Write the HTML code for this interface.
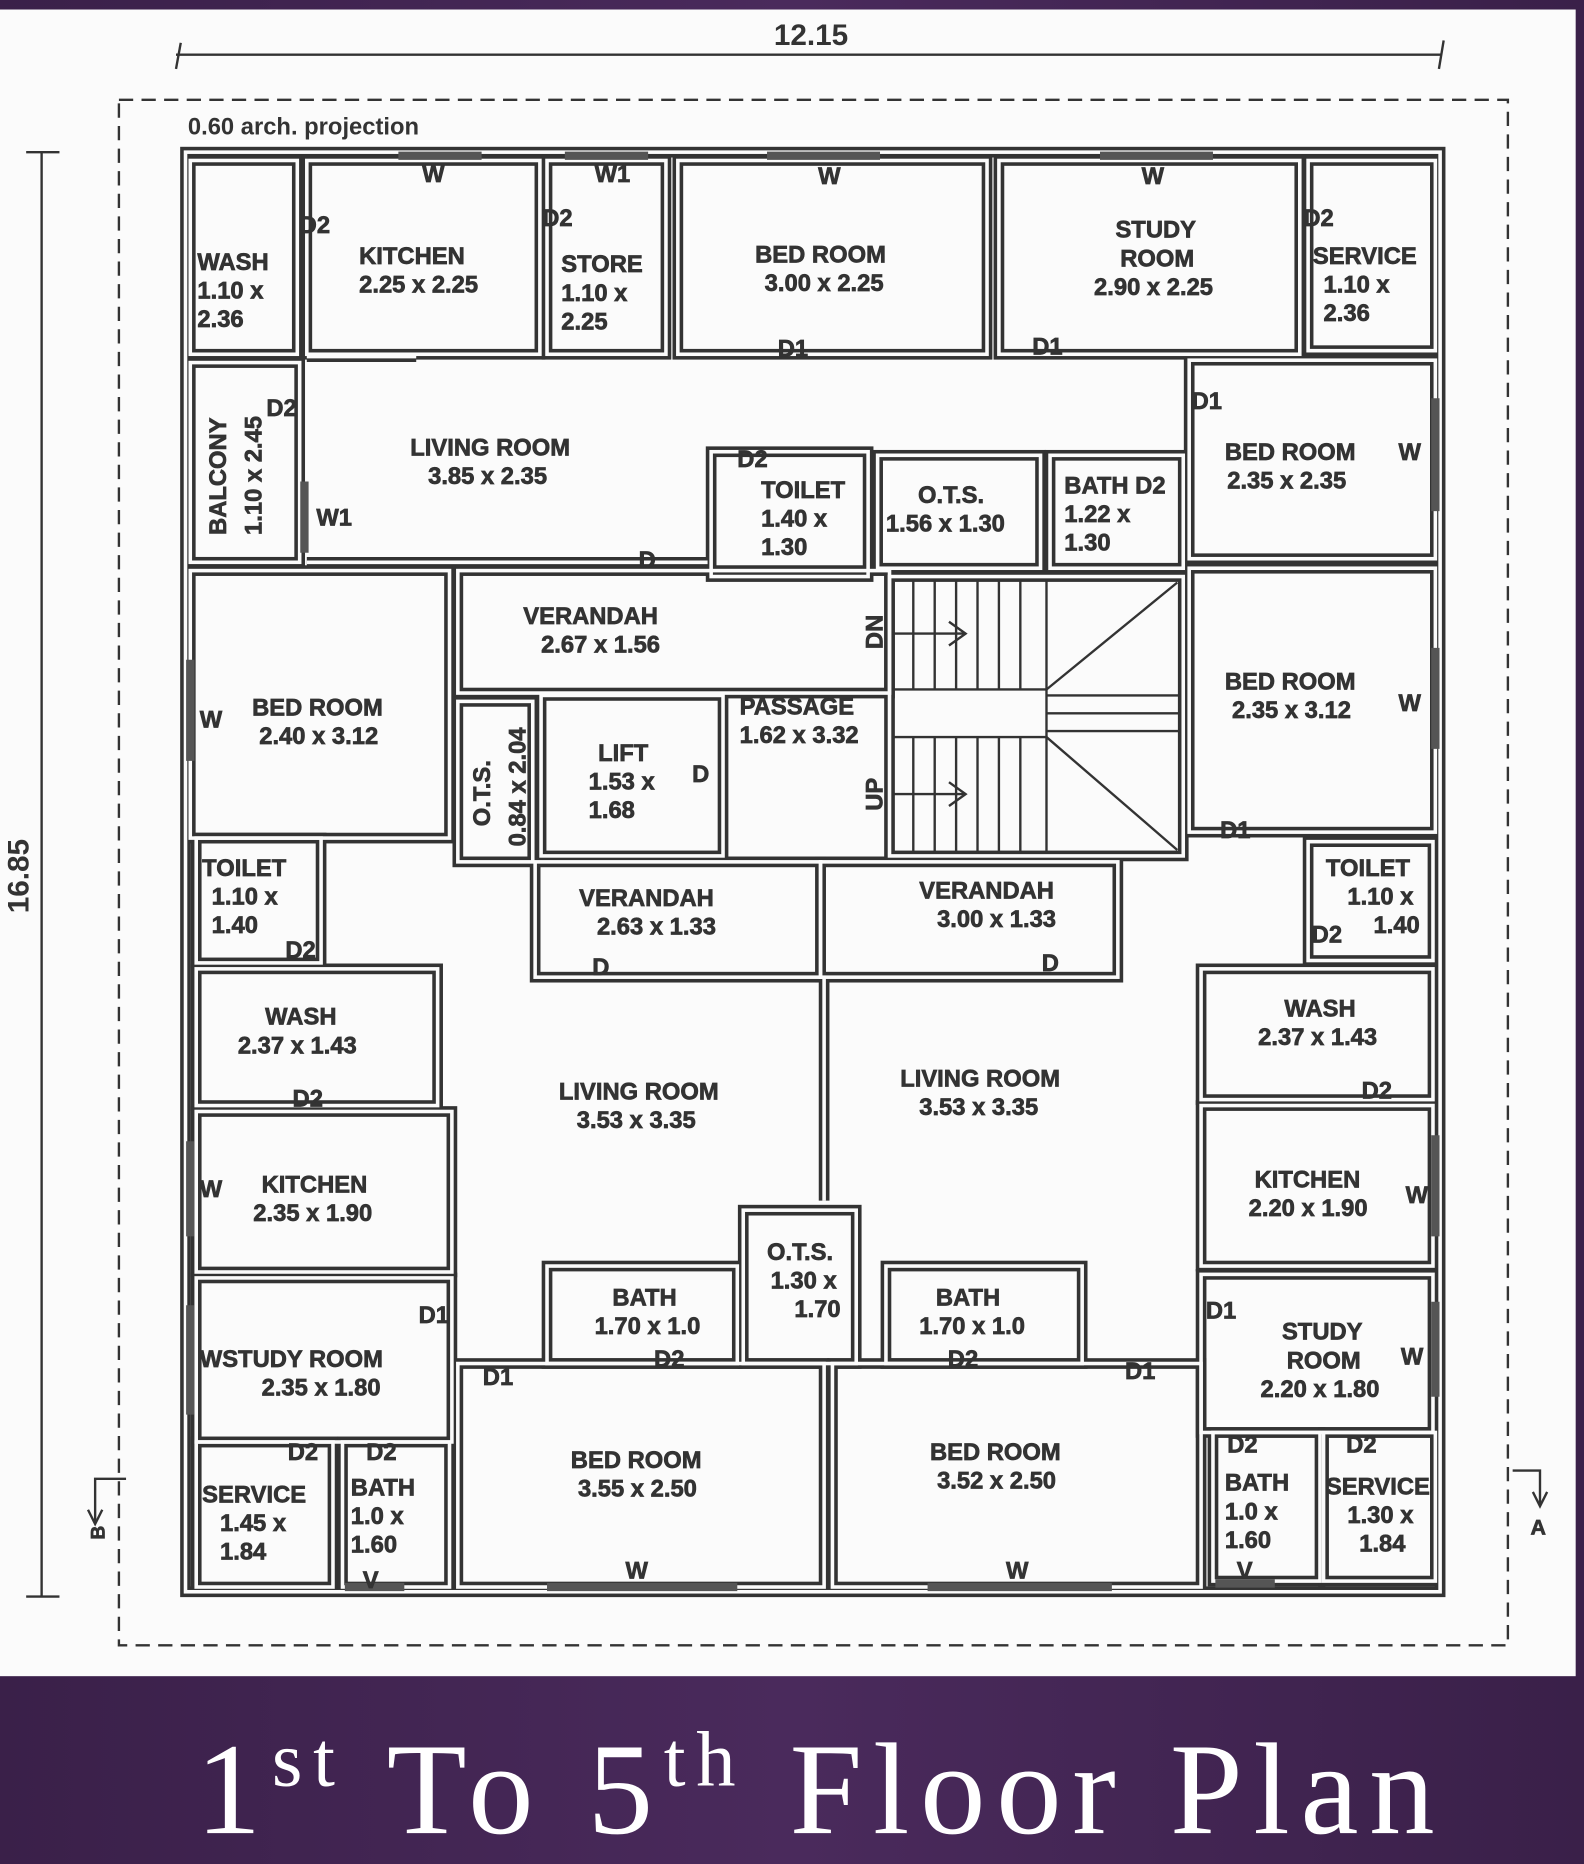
<!DOCTYPE html>
<html><head><meta charset="utf-8"><style>
html,body{margin:0;padding:0;background:#3c2350;}
svg{display:block}
</style></head><body>
<svg width="1584" height="1864" viewBox="0 0 1332 1568" preserveAspectRatio="none" xmlns="http://www.w3.org/2000/svg">
<defs>
<linearGradient id="bg" x1="0" y1="0" x2="1" y2="0">
<stop offset="0" stop-color="#3a2049"/><stop offset="0.5" stop-color="#4a2a5c"/><stop offset="1" stop-color="#3a2049"/>
</linearGradient>
<g id="walls">
<rect x="156" y="128" width="1055" height="1211"/>
<rect x="160" y="135" width="90" height="163"/>
<rect x="258" y="135" width="196" height="163"/>
<rect x="460" y="135" width="100" height="163"/>
<rect x="570" y="135" width="260" height="163"/>
<rect x="840" y="135" width="253" height="163"/>
<rect x="1100" y="135" width="107" height="160"/>
<rect x="160" y="305" width="92" height="168"/>
<line x1="258" y1="300" x2="350" y2="300"/>
<line x1="258" y1="473" x2="595" y2="473"/>
<rect x="598" y="380" width="132" height="105"/>
<rect x="738" y="383" width="137" height="95"/>
<rect x="883" y="383" width="112" height="95"/>
<rect x="1000" y="303" width="207" height="167"/>
<rect x="160" y="480" width="218" height="225"/>
<rect x="385" y="480" width="363" height="103"/>
<rect x="748" y="485" width="247" height="235"/>
<rect x="1000" y="478" width="207" height="222"/>
<rect x="385" y="590" width="63" height="135"/>
<rect x="455" y="585" width="153" height="135"/>
<rect x="450" y="725" width="240" height="97"/>
<rect x="690" y="725" width="250" height="97"/>
<rect x="165" y="705" width="105" height="105"/>
<rect x="1100" y="708" width="105" height="100"/>
<rect x="165" y="815" width="203" height="115"/>
<rect x="1010" y="815" width="195" height="110"/>
<rect x="165" y="935" width="215" height="135"/>
<rect x="1010" y="930" width="195" height="135"/>
<rect x="165" y="1075" width="215" height="138"/>
<rect x="1010" y="1072" width="195" height="133"/>
<rect x="165" y="1213" width="115" height="122"/>
<rect x="288" y="1213" width="90" height="122"/>
<rect x="385" y="1147" width="308" height="188"/>
<rect x="700" y="1147" width="310" height="188"/>
<line x1="693" y1="822" x2="693" y2="1010"/>
<rect x="460" y="1065" width="160" height="82"/>
<rect x="625" y="1018" width="95" height="129"/>
<rect x="745" y="1065" width="165" height="82"/>
<rect x="1020" y="1205" width="90" height="125"/>
<rect x="1113" y="1205" width="94" height="125"/>
</g>
</defs>
<rect x="0" y="0" width="1332" height="1568" fill="url(#bg)"/>
<rect x="0" y="8" width="1325" height="1402" fill="#fbfbfb"/>
<g stroke="#333" stroke-width="2" fill="none">
<line x1="148" y1="46" x2="1212" y2="46"/>
<line x1="152" y1="36" x2="148" y2="58"/><line x1="1214" y1="34" x2="1210" y2="58"/>
<line x1="35" y1="128" x2="35" y2="1343"/>
<line x1="22" y1="128" x2="50" y2="128"/><line x1="22" y1="1343" x2="50" y2="1343"/>
<rect x="100" y="84" width="1168" height="1300" stroke-dasharray="12 7"/>
</g>
<g font-family="Liberation Sans, sans-serif" font-weight="bold" fill="#333">
<text x="682" y="38" font-size="25" text-anchor="middle">12.15</text>
<text transform="translate(24 737) rotate(-90)" font-size="25" text-anchor="middle">16.85</text>
<text x="158" y="113" font-size="20">0.60 arch. projection</text>
</g>
<use href="#walls" fill="none" stroke="#333" stroke-width="9"/>
<use href="#walls" fill="none" stroke="#fbfbfb" stroke-width="3"/>
<g stroke="#555" stroke-width="7">
<line x1="335" y1="131" x2="405" y2="131"/><line x1="475" y1="131" x2="545" y2="131"/>
<line x1="645" y1="131" x2="740" y2="131"/><line x1="925" y1="131" x2="1020" y2="131"/>
<line x1="1207" y1="335" x2="1207" y2="430"/><line x1="1207" y1="545" x2="1207" y2="630"/>
<line x1="1207" y1="955" x2="1207" y2="1040"/><line x1="1207" y1="1095" x2="1207" y2="1175"/>
<line x1="160" y1="555" x2="160" y2="640"/><line x1="160" y1="960" x2="160" y2="1040"/>
<line x1="160" y1="1098" x2="160" y2="1190"/><line x1="256" y1="405" x2="256" y2="465"/>
<line x1="460" y1="1335" x2="620" y2="1335"/><line x1="780" y1="1335" x2="935" y2="1335"/>
<line x1="290" y1="1335" x2="340" y2="1335"/><line x1="1022" y1="1332" x2="1072" y2="1332"/>
</g>
<g stroke="#333" stroke-width="2" fill="none">
<line x1="750" y1="580" x2="880" y2="580"/><line x1="750" y1="620" x2="880" y2="620"/>
<line x1="768" y1="487" x2="768" y2="580"/><line x1="786" y1="487" x2="786" y2="580"/><line x1="804" y1="487" x2="804" y2="580"/><line x1="822" y1="487" x2="822" y2="580"/><line x1="840" y1="487" x2="840" y2="580"/><line x1="858" y1="487" x2="858" y2="580"/><line x1="880" y1="487" x2="880" y2="718"/>
<line x1="768" y1="620" x2="768" y2="718"/><line x1="786" y1="620" x2="786" y2="718"/><line x1="804" y1="620" x2="804" y2="718"/><line x1="822" y1="620" x2="822" y2="718"/><line x1="840" y1="620" x2="840" y2="718"/><line x1="858" y1="620" x2="858" y2="718"/>
<line x1="880" y1="580" x2="990" y2="490"/><line x1="880" y1="620" x2="990" y2="715"/>
<line x1="880" y1="585" x2="993" y2="585"/><line x1="880" y1="600" x2="993" y2="600"/><line x1="880" y1="615" x2="993" y2="615"/>
<line x1="750" y1="533" x2="812" y2="533"/><path d="M798 523 L812 533 L798 543"/>
<line x1="750" y1="668" x2="812" y2="668"/><path d="M798 658 L812 668 L798 678"/>
<path d="M80 1280 V1244 H106"/><path d="M74 1270 L80 1282 L86 1270"/>
<path d="M1295 1265 V1237 H1272"/><path d="M1289 1255 L1295 1267 L1301 1255"/>
</g>
<g font-family="Liberation Sans, sans-serif" font-weight="bold" fill="#333" font-size="20" stroke="#333" stroke-width="0.6">
<text x="355" y="153">W</text><text x="500" y="153">W1</text><text x="688" y="155">W</text><text x="960" y="155">W</text>
<text x="252" y="196">D2</text><text x="456" y="190">D2</text><text x="1096" y="190">D2</text>
<text x="166" y="227">WASH</text><text x="166" y="251">1.10 x</text><text x="166" y="275">2.36</text>
<text x="302" y="222">KITCHEN</text><text x="302" y="246">2.25 x 2.25</text>
<text x="472" y="229">STORE</text><text x="472" y="253">1.10 x</text><text x="472" y="277">2.25</text>
<text x="635" y="221">BED ROOM</text><text x="643" y="245">3.00 x 2.25</text>
<text x="938" y="200">STUDY</text><text x="942" y="224">ROOM</text><text x="920" y="248">2.90 x 2.25</text>
<text x="1104" y="222">SERVICE</text><text x="1113" y="246">1.10 x</text><text x="1113" y="270">2.36</text>
<text x="654" y="300">D1</text><text x="868" y="298">D1</text><text x="1002" y="344">D1</text>
<text x="224" y="350">D2</text>
<text transform="translate(190 450) rotate(-90)">BALCONY</text><text transform="translate(220 450) rotate(-90)">1.10 x 2.45</text>
<text x="266" y="442">W1</text>
<text x="345" y="383">LIVING ROOM</text><text x="360" y="407">3.85 x 2.35</text>
<text x="620" y="393">D2</text>
<text x="640" y="419">TOILET</text><text x="640" y="443">1.40 x</text><text x="640" y="467">1.30</text>
<text x="772" y="423">O.T.S.</text><text x="745" y="447">1.56 x 1.30</text>
<text x="895" y="415">BATH D2</text><text x="895" y="439">1.22 x</text><text x="895" y="463">1.30</text>
<text x="1030" y="387">BED ROOM</text><text x="1176" y="387">W</text><text x="1032" y="411">2.35 x 2.35</text>
<text x="537" y="478">D</text>
<text x="440" y="525">VERANDAH</text><text x="455" y="549">2.67 x 1.56</text>
<text transform="translate(742 546) rotate(-90)">DN</text>
<text transform="translate(742 682) rotate(-90)">UP</text>
<text x="168" y="612">W</text><text x="212" y="602">BED ROOM</text><text x="218" y="626">2.40 x 3.12</text>
<text x="622" y="601">PASSAGE</text><text x="622" y="625">1.62 x 3.32</text>
<text x="1030" y="580">BED ROOM</text><text x="1036" y="604">2.35 x 3.12</text><text x="1176" y="598">W</text>
<text transform="translate(412 695) rotate(-90)">O.T.S.</text><text transform="translate(442 712) rotate(-90)">0.84 x 2.04</text>
<text x="503" y="640">LIFT</text><text x="495" y="664">1.53 x</text><text x="582" y="658">D</text><text x="495" y="688">1.68</text>
<text x="1026" y="705">D1</text>
<text x="170" y="737">TOILET</text><text x="178" y="761">1.10 x</text><text x="178" y="785">1.40</text><text x="240" y="806">D2</text>
<text x="1115" y="737">TOILET</text><text x="1133" y="761">1.10 x</text><text x="1103" y="793">D2</text><text x="1155" y="785">1.40</text>
<text x="487" y="762">VERANDAH</text><text x="502" y="786">2.63 x 1.33</text>
<text x="773" y="756">VERANDAH</text><text x="788" y="780">3.00 x 1.33</text>
<text x="498" y="820">D</text><text x="876" y="817">D</text>
<text x="223" y="862">WASH</text><text x="200" y="886">2.37 x 1.43</text><text x="246" y="931">D2</text>
<text x="1080" y="855">WASH</text><text x="1058" y="879">2.37 x 1.43</text><text x="1145" y="924">D2</text>
<text x="470" y="925">LIVING ROOM</text><text x="485" y="949">3.53 x 3.35</text>
<text x="757" y="914">LIVING ROOM</text><text x="773" y="938">3.53 x 3.35</text>
<text x="168" y="1007">W</text><text x="220" y="1003">KITCHEN</text><text x="213" y="1027">2.35 x 1.90</text>
<text x="1055" y="999">KITCHEN</text><text x="1050" y="1023">2.20 x 1.90</text><text x="1182" y="1012">W</text>
<text x="645" y="1060">O.T.S.</text><text x="648" y="1084">1.30 x</text><text x="668" y="1108">1.70</text>
<text x="515" y="1098">BATH</text><text x="500" y="1122">1.70 x 1.0</text><text x="550" y="1150">D2</text>
<text x="787" y="1098">BATH</text><text x="773" y="1122">1.70 x 1.0</text><text x="797" y="1150">D2</text>
<text x="352" y="1113">D1</text><text x="1014" y="1109">D1</text>
<text x="168" y="1150">WSTUDY ROOM</text><text x="220" y="1174">2.35 x 1.80</text>
<text x="1078" y="1127">STUDY</text><text x="1082" y="1151">ROOM</text><text x="1178" y="1148">W</text><text x="1060" y="1175">2.20 x 1.80</text>
<text x="406" y="1165">D1</text><text x="946" y="1160">D1</text>
<text x="480" y="1235">BED ROOM</text><text x="486" y="1259">3.55 x 2.50</text>
<text x="782" y="1228">BED ROOM</text><text x="788" y="1252">3.52 x 2.50</text>
<text x="242" y="1228">D2</text><text x="308" y="1228">D2</text><text x="1032" y="1222">D2</text><text x="1132" y="1222">D2</text>
<text x="170" y="1264">SERVICE</text><text x="185" y="1288">1.45 x</text><text x="185" y="1312">1.84</text>
<text x="295" y="1258">BATH</text><text x="295" y="1282">1.0 x</text><text x="295" y="1306">1.60</text>
<text x="1030" y="1254">BATH</text><text x="1030" y="1278">1.0 x</text><text x="1030" y="1302">1.60</text>
<text x="1115" y="1257">SERVICE</text><text x="1133" y="1281">1.30 x</text><text x="1143" y="1305">1.84</text>
<text x="526" y="1328">W</text><text x="846" y="1328">W</text>
<text x="305" y="1336">V</text><text x="1040" y="1328">V</text>
<text transform="translate(88 1295) rotate(-90)" font-size="16">B</text>
<text x="1287" y="1291" font-size="18">A</text>
</g>
<text x="690" y="1542" font-family="Liberation Serif, serif" font-size="110" fill="#ffffff" text-anchor="middle" letter-spacing="9">1<tspan font-size="66" dy="-40">st</tspan><tspan dy="40"> To 5</tspan><tspan font-size="66" dy="-40">th</tspan><tspan dy="40"> Floor Plan</tspan></text>
</svg>
</body></html>
